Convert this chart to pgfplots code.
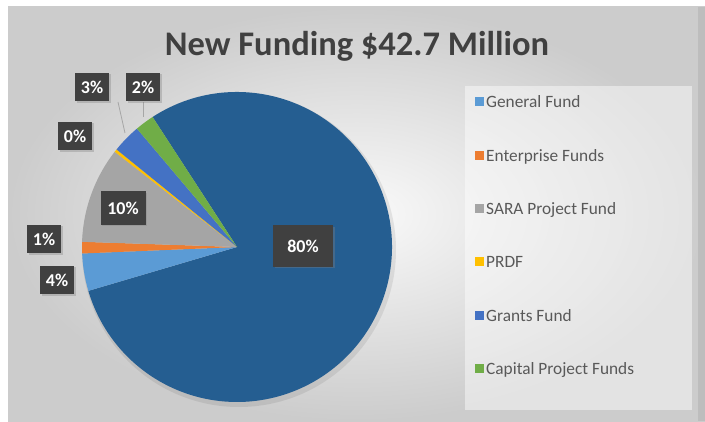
\documentclass[border=0pt]{standalone}
\usepackage{pgfplots}
\pgfplotsset{compat=1.18}
\usepackage{pgfplotstable}
\usepackage{fontspec}
\setmainfont{Carlito}
\usetikzlibrary{shadows}
\definecolor{cDark}{HTML}{255E91}
\definecolor{cGen}{HTML}{5B9BD5}
\definecolor{cEnt}{HTML}{ED7D31}
\definecolor{cSara}{HTML}{A5A5A5}
\definecolor{cPrdf}{HTML}{FFC000}
\definecolor{cGrant}{HTML}{4472C4}
\definecolor{cCap}{HTML}{70AD47}
\definecolor{lblbox}{HTML}{404040}
\definecolor{txtgray}{HTML}{595959}

% share of the new funding, percent (clockwise from the top-left edge)
\pgfplotstableread{
name value color
Main 79.6 cDark
General 3.9 cGen
Enterprise 1.2 cEnt
SARA 10.0 cSara
PRDF 0.3 cPrdf
Grants 3.0 cGrant
Capital 2.0 cCap
}\piedata

\begin{document}
\begin{tikzpicture}
\begin{axis}[
  x=1pt, y=1pt,
  xmin=0, xmax=705, ymin=0, ymax=421,
  hide axis, clip=false,
  legend cell align=left,
  legend image code/.code={\fill[#1, draw=none] (0pt,1.5pt) rectangle (9pt,10.5pt);},
  legend style={
    at={(axis cs:475,325)}, anchor=north west,
    draw=none, fill=none, inner sep=0pt,
    font=\fontsize{17.3}{19}\selectfont, text=txtgray,
    row sep=37.9pt,
    nodes={inner xsep=2pt, inner ysep=0pt, text height=11.5pt, text depth=4pt, anchor=base west},
  },
]
% background
\fill[white] (axis cs:0,0) rectangle (axis cs:705,421);
\shade[inner color=black!2, outer color=black!20] (axis cs:8,0) rectangle (axis cs:705,414);
\fill[black!26] (axis cs:698,0) rectangle (axis cs:705,414);
\fill[white, opacity=0.45] (axis cs:465,11) rectangle (axis cs:692,335);

% pie shadow
\fill[black, opacity=0.08] (axis cs:239,171) circle[radius=157pt];

% slices from the table
\def\cx{237}\def\cy{174}\def\R{155}
\def\curang{123}
\pgfplotsforeachungrouped \i in {0,...,6}{%
  \pgfplotstablegetelem{\i}{value}\of\piedata \let\val\pgfplotsretval
  \pgfplotstablegetelem{\i}{color}\of\piedata \let\col\pgfplotsretval
  \pgfmathsetmacro\endang{\curang-3.6*\val}%
  \edef\temp{\noexpand\fill[\col] (axis cs:\cx,\cy) -- ++(\curang:\R pt) arc[start angle=\curang, end angle=\endang, radius=\R pt] -- cycle;}%
  \temp
  \let\curang\endang
}

% leader lines
\draw[black!35, line width=0.8pt] (axis cs:118,319) -- (axis cs:125,288);
\draw[black!35, line width=0.8pt] (axis cs:143,319) -- (axis cs:143,304);

% data labels
\tikzset{lbl/.style={fill=lblbox, text=white, font=\bfseries\fontsize{18}{19}\selectfont,
  text height=12.5pt, text depth=0pt, minimum width=34pt,
  inner xsep=4pt, inner ysep=8pt, drop shadow={opacity=0.35, shadow xshift=1.5pt, shadow yshift=-1.5pt}}}
\node[lbl, minimum width=60pt, inner ysep=14.5pt] at (axis cs:303,175) {80\%};
\node[lbl, minimum width=45pt, inner ysep=10.5pt] at (axis cs:123,213) {10\%};
\node[lbl] at (axis cs:57,141) {4\%};
\node[lbl] at (axis cs:44,182) {1\%};
\node[lbl] at (axis cs:75,285) {0\%};
\node[lbl] at (axis cs:92,334) {3\%};
\node[lbl] at (axis cs:143,334) {2\%};

% title
\node[anchor=base, font=\bfseries\fontsize{34.5}{38}\selectfont, text=lblbox] at (axis cs:357,365) {New Funding \$42.7 Million};

% legend
\addlegendimage{fill=cGen}\addlegendentry{General Fund}
\addlegendimage{fill=cEnt}\addlegendentry{Enterprise Funds}
\addlegendimage{fill=cSara}\addlegendentry{SARA Project Fund}
\addlegendimage{fill=cPrdf}\addlegendentry{PRDF}
\addlegendimage{fill=cGrant}\addlegendentry{Grants Fund}
\addlegendimage{fill=cCap}\addlegendentry{Capital Project Funds}
\end{axis}
\end{tikzpicture}
\end{document}
